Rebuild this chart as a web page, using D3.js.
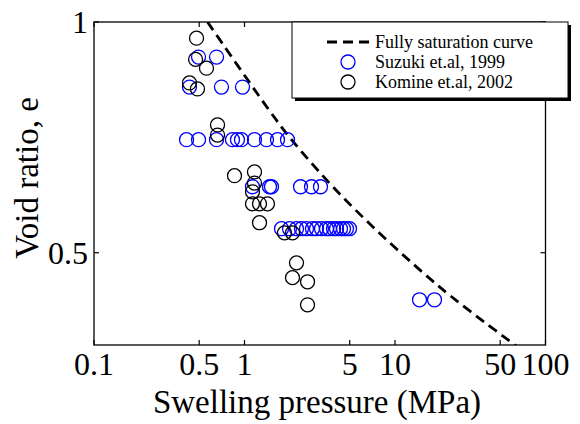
<!DOCTYPE html>
<html>
<head>
<meta charset="utf-8">
<script src="https://cdn.jsdelivr.net/npm/d3@7"></script>
<style>
  body { margin: 0; background: #fff; }
</style>
</head>
<body>
<div id="chart"></div>
<script>
// swelling pressure (MPa) vs void ratio
var suzukiP = [0.495, 0.652, 0.431, 0.703, 0.970,
  0.412, 0.495, 0.652, 0.832, 0.898, 0.955, 1.165, 1.400, 1.657, 1.931,
  1.130, 1.466, 1.511, 2.356, 2.787, 3.199,
  1.762, 1.991, 2.216, 2.392, 2.582, 2.830, 3.008, 3.248, 3.506, 3.671, 3.903, 4.087, 4.345, 4.549, 4.762, 4.985,
  14.55, 18.30];
var suzukiE = [0.924, 0.924, 0.859, 0.859, 0.859,
  0.745, 0.745, 0.745, 0.745, 0.745, 0.745, 0.745, 0.745, 0.745, 0.745,
  0.643, 0.643, 0.643, 0.643, 0.643, 0.643,
  0.552, 0.552, 0.552, 0.552, 0.552, 0.552, 0.552, 0.552, 0.552, 0.552, 0.552, 0.552, 0.552, 0.552, 0.552, 0.552,
  0.398, 0.398];

var komineP = [0.480, 0.473, 0.559, 0.431, 0.487, 0.662, 0.662, 0.858, 1.165, 1.165, 1.130,
  1.130, 1.258, 1.421, 1.258, 1.844, 2.084, 2.216, 2.084, 2.623, 2.623];
var komineE = [0.965, 0.919, 0.900, 0.868, 0.855, 0.777, 0.755, 0.667, 0.675, 0.651, 0.632,
  0.606, 0.606, 0.606, 0.565, 0.543, 0.543, 0.478, 0.446, 0.437, 0.387];

var curveP = [0.568, 1.421, 2.052, 4.836, 19.76, 65.2];
var curveE = [1.0, 0.814, 0.745, 0.610, 0.426, 0.296];

var xTicks = [0.1, 0.5, 1, 5, 10, 50, 100];
var yTicks = [0.5, 1];
var legendLabels = ["Fully saturation curve", "Suzuki et.al, 1999", "Komine et.al, 2002"];

var FONT = "'Liberation Serif', 'Times New Roman', serif";

var W = 580, H = 424;
var margin = { top: 22, right: 34.5, bottom: 79, left: 94 },
    width = W - margin.left - margin.right,
    height = H - margin.top - margin.bottom;

var svg = d3.select("#chart").append("svg")
    .attr("width", W)
    .attr("height", H)
    .style("font-family", FONT);

var g = svg.append("g")
    .attr("transform", "translate(" + margin.left + "," + margin.top + ")");

var x = d3.scaleLog().domain([0.1, 100]).range([0, width]);
var y = d3.scaleLinear().domain([0.3, 1]).range([height, 0]);

g.append("defs").append("clipPath").attr("id", "clip")
  .append("rect").attr("width", width).attr("height", height);

// saturation curve
var line = d3.line()
    .x(function(d) { return x(d[0]); })
    .y(function(d) { return y(d[1]); })
    .curve(d3.curveCatmullRom);

g.append("path")
    .datum(curveP.map(function(p, i) { return [p, curveE[i]]; }))
    .attr("clip-path", "url(#clip)")
    .attr("d", line)
    .attr("fill", "none")
    .attr("stroke", "#000")
    .attr("stroke-width", 2.8)
    .attr("stroke-dasharray", "10,6");

g.selectAll(".suzuki")
    .data(suzukiP)
    .enter().append("circle")
    .attr("class", "suzuki")
    .attr("cx", function(d) { return x(d); })
    .attr("cy", function(d, i) { return y(suzukiE[i]); })
    .attr("r", 7)
    .attr("fill", "none")
    .attr("stroke", "#0000ff")
    .attr("stroke-width", 1.3);

g.selectAll(".komine")
    .data(komineP)
    .enter().append("circle")
    .attr("class", "komine")
    .attr("cx", function(d) { return x(d); })
    .attr("cy", function(d, i) { return y(komineE[i]); })
    .attr("r", 7)
    .attr("fill", "none")
    .attr("stroke", "#000")
    .attr("stroke-width", 1.3);

// box + inward ticks
g.append("rect")
    .attr("width", width).attr("height", height)
    .attr("fill", "none").attr("stroke", "#000").attr("stroke-width", 1.3);

var tl = 5;
xTicks.forEach(function(t) {
  g.append("line").attr("x1", x(t)).attr("x2", x(t)).attr("y1", height).attr("y2", height - tl)
    .attr("stroke", "#000").attr("stroke-width", 1.2);
  g.append("line").attr("x1", x(t)).attr("x2", x(t)).attr("y1", 0).attr("y2", tl)
    .attr("stroke", "#000").attr("stroke-width", 1.2);
  g.append("text").attr("x", x(t)).attr("y", height + 30)
    .attr("text-anchor", "middle").style("font-size", "32px").text(t);
});
yTicks.forEach(function(t) {
  g.append("line").attr("x1", 0).attr("x2", tl).attr("y1", y(t)).attr("y2", y(t))
    .attr("stroke", "#000").attr("stroke-width", 1.2);
  g.append("line").attr("x1", width).attr("x2", width - tl).attr("y1", y(t)).attr("y2", y(t))
    .attr("stroke", "#000").attr("stroke-width", 1.2);
  g.append("text").attr("x", -6).attr("y", y(t)).attr("dy", "0.35em")
    .attr("text-anchor", "end").style("font-size", "32px").text(t);
});

svg.append("text")
    .attr("x", 317).attr("y", 413)
    .attr("text-anchor", "middle").style("font-size", "33px")
    .text("Swelling pressure (MPa)");

svg.append("text")
    .attr("transform", "translate(38,178)rotate(-90)")
    .attr("text-anchor", "middle").style("font-size", "33px")
    .text("Void ratio, e");

// legend with drop shadow
var lg = svg.append("g").attr("transform", "translate(292,22)");
lg.append("rect").attr("x", 3).attr("y", 3).attr("width", 276).attr("height", 76).attr("fill", "#000");
lg.append("rect").attr("width", 276).attr("height", 76)
    .attr("fill", "#fff").attr("stroke", "#000").attr("stroke-width", 1);

lg.append("line").attr("x1", 35).attr("x2", 78).attr("y1", 20).attr("y2", 20)
    .attr("stroke", "#000").attr("stroke-width", 2.8).attr("stroke-dasharray", "10,6");
lg.append("circle").attr("cx", 56).attr("cy", 40).attr("r", 7)
    .attr("fill", "none").attr("stroke", "#0000ff").attr("stroke-width", 1.3);
lg.append("circle").attr("cx", 56).attr("cy", 60).attr("r", 7)
    .attr("fill", "none").attr("stroke", "#000").attr("stroke-width", 1.3);

lg.selectAll(".lt")
    .data(legendLabels)
    .enter().append("text")
    .attr("x", 83)
    .attr("y", function(d, i) { return 20 + i * 20; })
    .attr("dy", "0.33em")
    .style("font-size", "18px")
    .text(function(d) { return d; });
</script>
</body>
</html>
